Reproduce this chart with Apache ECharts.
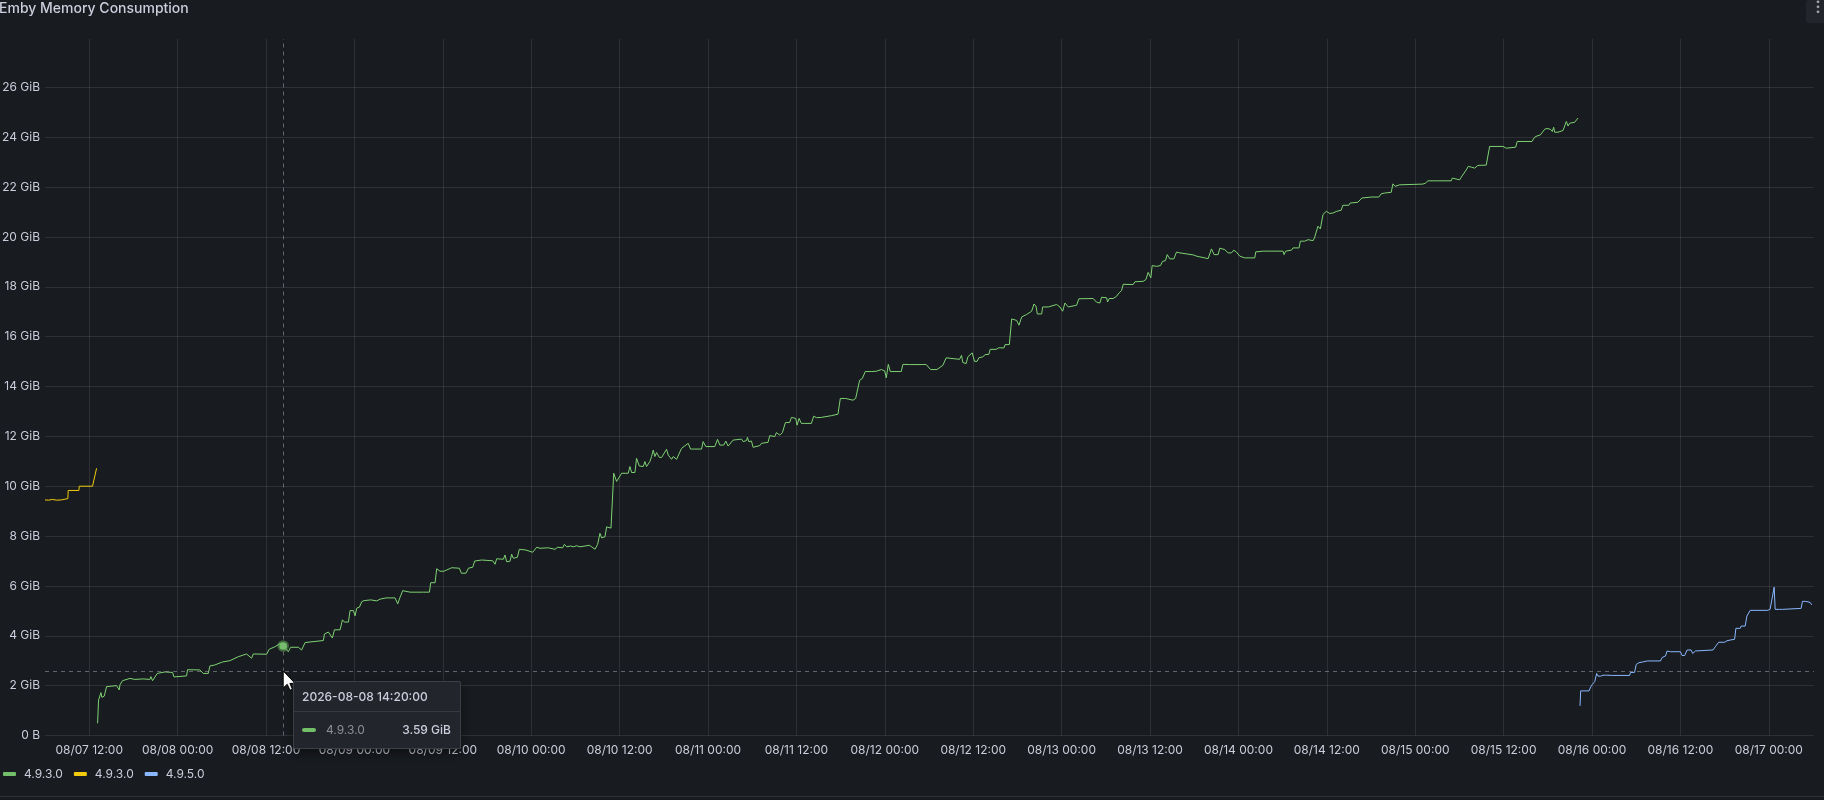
<!DOCTYPE html>
<html><head><meta charset="utf-8">
<script src="https://cdn.jsdelivr.net/npm/echarts@6/dist/echarts.min.js"></script>
<style>html,body{margin:0;padding:0;background:#181b1f;overflow:hidden}#c{width:1824px;height:800px}</style>
</head><body><div id="c"></div>
<script>
// time values are hours since 2026-08-07 00:00 (UTC); values in GiB
const BASE = Date.UTC(2026, 7, 7, 0, 0, 0);
const HOUR = 3600e3;
const seriesNames = ['4.9.3.0', '4.9.3.0 ', '4.9.5.0'];
const seriesColors = ['#73bf69', '#f2cc0c', '#8ab8ff'];
const xRangeHours = [6, 246.13];
const xTickHours = [12, 24, 36, 48, 60, 72, 84, 96, 108, 120, 132, 144, 156, 168, 180, 192, 204, 216, 228, 240];
const yMax = 27.94;
const yStep = 2;
const hoverHours = 38 + 20 / 60;
const cursorGiB = 2.59;

const yellow4930 = [[6.0,9.45],[6.5,9.44],[7.0,9.47],[7.6,9.44],[8.2,9.45],[8.7,9.48],[9.1,9.5],[9.15,9.83],[10.6,9.83],[10.65,10.0],[12.45,10.0],[13.0,10.72]];

const green4930 = [[13.14,0.49],[13.27,1.42],[13.59,1.72],[13.72,1.53],[14.04,1.58],[14.36,1.96],[15.72,2.0],[16.08,1.83],[16.17,2.03],[16.53,2.2],[17.53,2.29],[18.2,2.25],[19.33,2.27],[20.24,2.25],[20.38,2.36],[20.6,2.2],[21.24,2.49],[22.28,2.55],[23.32,2.53],[23.5,2.35],[25.22,2.39],[25.35,2.64],[27.03,2.63],[27.48,2.49],[28.16,2.49],[28.39,2.79],[29.06,2.83],[30.1,2.95],[31.1,3.0],[32.23,3.16],[33.36,3.27],[34.04,3.1],[34.27,3.27],[36.08,3.26],[36.44,3.46],[37.21,3.56],[37.98,3.7],[38 + 20 / 60,3.59],[39.02,3.36],[39.34,3.54],[40.38,3.54],[40.83,3.43],
[40.99,3.51],[41.31,3.73],[43.79,3.81],[43.93,4.07],[44.47,4.15],[45.01,3.91],[45.29,4.24],[46.06,4.24],[46.37,4.64],[46.64,4.55],[47.19,4.55],[47.41,5.01],[47.86,5.01],[48.09,4.8],[48.32,5.11],[48.68,5.15],[49.0,5.37],[49.31,5.41],[50.22,5.44],[50.49,5.48],[51.03,5.4],[51.48,5.47],[52.3,5.52],[53.52,5.52],[53.88,5.28],[54.2,5.55],[54.56,5.81],[55.55,5.75],[57.36,5.75],[57.59,5.77],[58.18,5.75],[58.36,6.13],[58.95,6.13],[59.17,6.69],[59.62,6.59],[60.17,6.59],[60.53,6.64],[61.21,6.73],[62.25,6.71],[62.52,6.51],[63.15,6.51],[63.47,6.71],[64.06,6.75],[64.33,7.0],[65.28,7.04],[66.77,7.01],[67.09,6.87],[67.31,7.09],[68.22,7.07],[68.44,7.24],[68.67,6.97],[69.12,6.99],[69.35,7.27],[69.57,7.11],[70.12,7.15],[70.39,7.47],[71.29,7.44],[72.2,7.35],[72.38,7.28],[72.74,7.55],[73.19,7.51],[74.32,7.53],[74.55,7.47],[75.23,7.47],[75.55,7.55],[76.27,7.53],[76.5,7.67],[76.81,7.57],[77.35,7.6],[77.72,7.57],[78.17,7.61],[78.62,7.57],[79.3,7.6],[79.89,7.63],[80.2,7.57],[80.66,7.47],[81.02,7.67],[81.33,8.11],[81.56,7.93],[82.01,7.97],[82.24,8.37],[82.83,8.32],[83.05,8.35],
[83.2,10.52],[83.59,10.19],[84.27,10.52],[85.17,10.52],[85.4,10.79],[85.63,10.55],[86.08,10.55],[86.3,11.12],[86.67,10.81],[87.21,10.79],[87.43,10.99],[87.66,10.79],[88.11,10.99],[88.34,11.19],[88.56,11.45],[88.79,11.19],[89.02,11.35],[89.38,11.16],[89.69,11.15],[90.37,11.48],[90.6,11.25],[91.05,11.08],[91.28,11.19],[91.73,11.08],[92.41,11.52],[93.31,11.72],[93.63,11.49],[95.12,11.49],[95.34,11.79],[95.7,11.59],[96.92,11.59],[97.29,11.88],[97.6,11.65],[98.14,11.65],[98.42,11.81],[98.73,11.61],[99.41,11.85],[100.54,11.89],[100.77,11.79],[101.22,11.83],[101.35,11.96],[101.53,11.79],[101.9,11.81],[102.12,11.56],[103.03,11.63],[103.25,11.72],[104.15,11.76],[104.38,12.03],[105.06,11.99],[105.28,12.15],[105.74,12.05],[106.1,12.15],[106.5,12.55],[107.09,12.56],[107.32,12.76],[107.91,12.72],[108.09,12.45],[108.36,12.72],[108.67,12.52],[109.13,12.52],[110.03,12.52],[110.35,12.81],[110.71,12.75],[111.39,12.76],[111.61,12.76],[112.74,12.83],[112.97,12.85],[113.64,12.89],[113.96,13.52],[114.68,13.52],[115.68,13.45],[116.04,13.52],[116.58,14.25],[116.94,14.32],[117.35,14.6],[118.16,14.6],[118.39,14.64],[118.84,14.61],[119.52,14.68],[119.97,14.63],[120.2,14.35],[120.47,14.89],[120.74,14.6],[122.23,14.6],[122.46,14.89],[123.36,14.88],[125.17,14.88],[125.39,14.96],[125.62,14.88],[126.21,14.68],[127.07,14.68],[127.88,14.85],[128.33,15.15],[130.14,15.09],[130.41,15.25],[130.59,14.96],[131.04,14.92],[131.27,15.19],[131.86,15.35],[132.17,15.01],[132.53,15.01],[132.76,15.15],[133.3,15.19],[133.62,15.28],[134.12,15.29],[134.3,15.49],[135.11,15.49],[135.43,15.55],
[136.18,15.55],[136.32,15.68],[136.9,15.68],[137.22,16.71],[137.9,16.65],[138.21,16.46],[138.58,16.79],[139.25,16.89],[139.93,17.02],[140.25,17.31],[140.52,17.22],[140.7,16.91],[141.29,16.91],[141.42,17.19],[142.19,17.19],[142.33,17.25],[143.32,17.29],[143.77,17.19],[144.14,17.02],[144.45,17.35],[144.9,17.19],[146.03,17.26],[146.35,17.52],[148.29,17.53],[148.52,17.6],[148.75,17.38],[149.2,17.35],[149.42,17.58],[150.1,17.56],[150.24,17.39],[150.46,17.53],[151.01,17.53],[151.46,17.62],[151.82,17.76],[152.14,17.85],[152.36,18.1],[153.72,18.09],[153.94,18.2],[155.07,18.22],[155.44,18.29],[155.75,18.58],[156.11,18.36],[156.29,18.85],[156.52,18.93],[156.88,18.82],[157.42,18.85],[157.7,19.02],[158.1,19.05],[158.33,19.29],[158.69,19.12],[159.23,19.12],[159.59,19.39],[160.05,19.36],[161.85,19.28],[162.31,19.23],[162.76,19.2],[163.89,19.13],[164.11,19.2],[164.34,19.52],[164.57,19.49],[164.7,19.29],[165.24,19.29],[165.47,19.55],[166.15,19.49],[166.6,19.36],[167.05,19.36],[167.37,19.47],[167.73,19.39],[168.18,19.23],[168.86,19.16],[169.09,19.2],[170.22,19.16],[170.35,19.4],[171.35,19.43],[172.25,19.43],[174.06,19.43],[174.19,19.29],[174.42,19.43],[175.19,19.47],[175.41,19.56],[176.23,19.56],[176.41,19.83],[177.0,19.83],[177.45,19.89],[178.13,19.85],[178.32,19.96],[178.55,20.03],[178.8,20.43],[179.12,20.32],[179.48,20.9],[179.93,21.03],[180.39,20.94],
[180.82,20.96],[181.04,21.0],[181.36,21.03],[181.95,21.07],[182.17,21.27],[182.99,21.27],[183.17,21.36],[184.21,21.39],[184.44,21.47],[184.75,21.56],[186.02,21.6],[187.06,21.6],[187.38,21.73],[187.83,21.76],[188.74,21.79],[188.97,22.13],[189.28,22.03],[189.55,22.03],[189.87,22.09],[190.1,22.12],[193.04,22.12],[193.4,22.16],[193.72,22.25],[194.4,22.25],[196.89,22.25],[197.03,22.36],[197.21,22.29],[198.02,22.29],[198.25,22.4],[198.93,22.69],[199.2,22.83],[199.61,22.8],[200.06,22.76],[200.51,22.87],[201.64,22.88],[201.87,22.89],[202.1,23.63],[203.91,23.63],[204.36,23.56],[204.59,23.59],[205.63,23.6],[205.85,23.83],[207.85,23.83],[208.21,24.0],[208.53,24.05],[208.98,24.09],[209.57,24.32],[209.88,24.35],[210.34,24.32],[210.61,24.23],[210.79,24.4],[210.93,24.2],[211.38,24.2],[212.06,24.27],[212.28,24.29],[212.51,24.63],[212.74,24.45],[212.96,24.56],[213.19,24.59],[213.64,24.6],[214.1,24.77]];

const blue4950 = [[214.37,1.19],[214.46,1.79],[215.59,1.79],[215.82,1.95],[216.04,2.05],[216.36,2.16],[216.5,2.22],[216.63,2.49],[216.81,2.38],[217.17,2.38],[217.49,2.42],[217.71,2.38],[217.94,2.42],[218.16,2.38],[218.75,2.41],[221.1,2.41],[221.23,2.53],[221.77,2.53],[222.0,2.85],[222.36,2.92],[223.04,2.96],[223.26,3.0],[223.49,2.99],[225.29,2.99],[225.52,3.13],[225.97,3.19],[226.19,3.39],[226.64,3.36],[228.0,3.36],[228.22,3.21],[228.58,3.21],[228.9,3.43],[229.44,3.43],[229.67,3.29],[230.03,3.39],[230.25,3.43],[232.42,3.43],[232.73,3.56],[233.19,3.74],[234.0,3.74],[234.31,3.8],[234.76,3.83],[235.35,3.86],[235.53,4.3],[236.12,4.3],[236.25,4.39],[236.79,4.39],[237.02,4.79],[237.25,4.83],[237.47,5.02],[239.86,5.02],[240.18,5.07],[240.41,5.13],[240.72,5.95],[240.86,5.06],[241.44,5.06],[241.62,5.13],[241.85,5.06],[242.12,5.09],[244.38,5.1],[244.56,5.38],[245.01,5.38],[245.24,5.34],[245.6,5.34],[245.82,5.24]];

const FONT = 'Inter, "Noto Sans", sans-serif';
const TEXT = '#ccccdc';
const GRID = 'rgba(204,204,220,0.12)';
const pad = n => String(n).padStart(2, '0');
const hoursToDate = h => new Date(BASE + h * HOUR);
const fmtTick = h => { const d = hoursToDate(h); return pad(d.getUTCMonth() + 1) + '/' + pad(d.getUTCDate()) + ' ' + pad(d.getUTCHours()) + ':' + pad(d.getUTCMinutes()); };
const fmtTime = h => { const d = hoursToDate(h); return d.getUTCFullYear() + '-' + pad(d.getUTCMonth() + 1) + '-' + pad(d.getUTCDate()) + ' ' + pad(d.getUTCHours()) + ':' + pad(d.getUTCMinutes()) + ':' + pad(d.getUTCSeconds()); };

const seriesData = [green4930, yellow4930, blue4950];

const chart = echarts.init(document.getElementById('c'), null, {renderer: 'canvas'});
chart.setOption({
  backgroundColor: '#181b1f',
  animation: false,
  textStyle: {fontFamily: FONT},
  title: {text: 'Emby Memory Consumption', left: -1, top: 0, padding: 0,
    textStyle: {color: TEXT, fontSize: 14, fontWeight: 500, fontFamily: FONT, lineHeight: 17}},
  grid: {left: 45, right: 10, top: 39, bottom: 64.5, containLabel: false, outerBoundsMode: 'none'},
  legend: {left: 3, top: 768, padding: 0, itemWidth: 13, itemHeight: 4, itemGap: 11, icon: 'roundRect',
    formatter: n => n.trim(), data: seriesNames,
    textStyle: {color: TEXT, fontSize: 12, fontFamily: FONT, padding: [0, 0, 0, 3]}},
  xAxis: {type: 'value', min: xRangeHours[0], max: xRangeHours[1],
    axisLine: {show: false}, axisTick: {show: false, customValues: xTickHours},
    splitLine: {show: true, lineStyle: {color: GRID, width: 1}},
    axisLabel: {color: TEXT, fontSize: 12, fontFamily: FONT, margin: 9, customValues: xTickHours,
      formatter: v => fmtTick(v)},
    axisPointer: {snap: true}},
  yAxis: {type: 'value', min: 0, max: yMax, interval: yStep,
    axisLine: {show: false}, axisTick: {show: false},
    splitLine: {show: true, showMaxLine: false, lineStyle: {color: GRID, width: 1}},
    axisLabel: {color: TEXT, fontSize: 12, fontFamily: FONT, margin: 5, showMaxLabel: false,
      formatter: v => v === 0 ? '0 B' : v + ' GiB'},
    axisPointer: {snap: false}},
  tooltip: {trigger: 'axis', triggerOn: 'none', alwaysShowContent: true, transitionDuration: 0,
    backgroundColor: '#22252b', borderColor: 'rgba(204,204,220,0.16)', borderWidth: 1, padding: 0,
    extraCssText: 'box-shadow:0 4px 8px rgba(0,0,0,0.45);border-radius:2px;',
    axisPointer: {type: 'cross', label: {show: false},
      lineStyle: {color: 'rgba(160,160,170,0.55)', width: 1, type: [4, 4]},
      crossStyle: {color: 'rgba(160,160,170,0.55)', width: 1, type: [4, 4]}},
    position: p => [p[0] + 10, p[1] + 10],
    formatter: params => {
      const p = params[0];
      return '<div style="font-family:Inter,sans-serif;font-size:12px;color:#ccccdc;width:166px;line-height:14px">' +
        '<div style="padding:8px 8px 7px 8px;font-weight:500;border-bottom:1px solid rgba(204,204,220,0.12)">' + fmtTime(p.value[0]) + '</div>' +
        '<div style="display:flex;align-items:center;padding:11px 9px 11px 8px">' +
        '<span style="display:inline-block;width:14px;height:4px;border-radius:2px;background:' + p.color + ';margin-right:10px"></span>' +
        '<span style="color:#8e8e98;flex:1">' + p.seriesName.trim() + '</span>' +
        '<span style="font-weight:500">' + p.value[1].toFixed(2) + ' GiB</span></div></div>';
    }},
  series: seriesData.map((d, i) => ({
    name: seriesNames[i], type: 'line', data: d, showSymbol: false,
    symbol: 'circle', symbolSize: 7,
    lineStyle: {width: 1, color: seriesColors[i]}, itemStyle: {color: seriesColors[i]},
    emphasis: {scale: 1.1, lineStyle: {width: 1},
      itemStyle: {color: seriesColors[i], borderColor: 'rgba(115,191,105,0.45)', borderWidth: 4}},
    tooltip: {show: i === 0}
  }))
});

const hoverPx = chart.convertToPixel({gridIndex: 0}, [hoverHours, cursorGiB]);
chart.setOption({graphic: {elements: [
  {id: 'menuBox', type: 'rect', shape: {x: 1806, y: 0, width: 22, height: 23, r: 3}, style: {fill: '#22252b'}},
  {id: 'dot1', type: 'circle', shape: {cx: 1818, cy: 1.8, r: 1.4}, style: {fill: '#a0a4ad'}},
  {id: 'dot2', type: 'circle', shape: {cx: 1818, cy: 6.8, r: 1.4}, style: {fill: '#a0a4ad'}},
  {id: 'dot3', type: 'circle', shape: {cx: 1818, cy: 11.8, r: 1.4}, style: {fill: '#a0a4ad'}},
  {id: 'bottomLine', type: 'rect', shape: {x: 0, y: 796, width: 1824, height: 1}, style: {fill: 'rgba(204,204,220,0.12)'}},
  {id: 'cursor', type: 'polygon', x: hoverPx[0], y: hoverPx[1], z: 100,
    shape: {points: [[0,0],[0,17],[4,13.4],[6.8,19.4],[9.3,18.3],[6.7,12.5],[12,12.5]]},
    style: {fill: '#ffffff', stroke: '#000000', lineWidth: 1}}
]}});
chart.dispatchAction({type: 'showTip', x: hoverPx[0], y: hoverPx[1]});
</script></body></html>
